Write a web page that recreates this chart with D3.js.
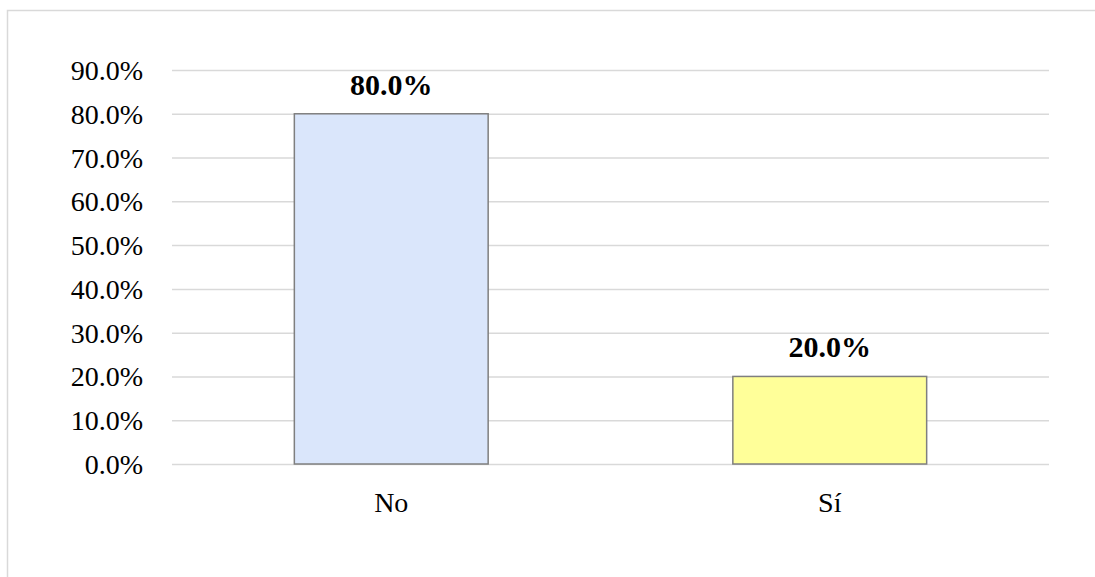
<!DOCTYPE html>
<html>
<head>
<meta charset="utf-8">
<script src="https://cdn.jsdelivr.net/npm/d3@7"></script>
<style>
  html, body { margin: 0; padding: 0; background: #fff; overflow: hidden; }
  svg { display: block; }
</style>
</head>
<body>
<svg id="chart" width="1095" height="577"></svg>
<script>
// Response categories and their shares (percent)
const categories = ["No", "Sí"];
const values = [80.0, 20.0];
const barColors = ["#DAE6FB", "#FFFF99"];
const tickValues = [0, 10, 20, 30, 40, 50, 60, 70, 80, 90];

const W = 1095, H = 577;
const plot = { left: 172, right: 1049, top: 70, bottom: 464 };

const svg = d3.select("#chart");

// Outer chart frame (only its top and left edges fall inside the view)
svg.append("rect")
  .attr("x", 7.5).attr("y", 10.5)
  .attr("width", W * 2).attr("height", H * 2)
  .attr("fill", "#fff")
  .attr("stroke", "#D9D9D9")
  .attr("stroke-width", 1.5);

const y = d3.scaleLinear().domain([0, 90]).range([plot.bottom, plot.top]);
const x = d3.scaleBand().domain(categories).range([plot.left, plot.right]).padding(0);
const barW = x.bandwidth() * 0.442;

// Horizontal gridlines and tick labels
const yAxis = d3.axisLeft(y)
  .tickValues(tickValues)
  .tickSize(-(plot.right - plot.left))
  .tickPadding(29)
  .tickFormat(d => d.toFixed(1) + "%");

const gy = svg.append("g")
  .attr("transform", `translate(${plot.left},0)`)
  .call(yAxis);
gy.select(".domain").remove();
gy.selectAll(".tick line")
  .attr("stroke", "#D9D9D9")
  .attr("stroke-width", 1.5);
gy.selectAll(".tick text")
  .attr("font-family", "'Liberation Serif', 'Times New Roman', serif")
  .attr("font-size", 28)
  .attr("fill", "#000")
  .attr("dy", "0.34em");

// Bars
svg.append("g").selectAll("rect")
  .data(categories)
  .join("rect")
  .attr("x", d => x(d) + (x.bandwidth() - barW) / 2)
  .attr("y", (d, i) => y(values[i]))
  .attr("width", barW)
  .attr("height", (d, i) => y(0) - y(values[i]))
  .attr("fill", (d, i) => barColors[i])
  .attr("stroke", "#7F7F7F")
  .attr("stroke-width", 1.5);

// Value labels above bars
svg.append("g").selectAll("text")
  .data(categories)
  .join("text")
  .attr("x", d => x(d) + x.bandwidth() / 2)
  .attr("y", (d, i) => y(values[i]) - 19)
  .attr("text-anchor", "middle")
  .attr("font-family", "'Liberation Serif', 'Times New Roman', serif")
  .attr("font-weight", "bold")
  .attr("font-size", 30)
  .attr("fill", "#000")
  .text((d, i) => values[i].toFixed(1) + "%");

// Category labels
const xAxis = d3.axisBottom(x).tickSize(0).tickPadding(28);
const gx = svg.append("g")
  .attr("transform", `translate(0,${plot.bottom})`)
  .call(xAxis);
gx.select(".domain").remove();
gx.selectAll(".tick text")
  .attr("font-family", "'Liberation Serif', 'Times New Roman', serif")
  .attr("font-size", 28)
  .attr("fill", "#000");
</script>
</body>
</html>
